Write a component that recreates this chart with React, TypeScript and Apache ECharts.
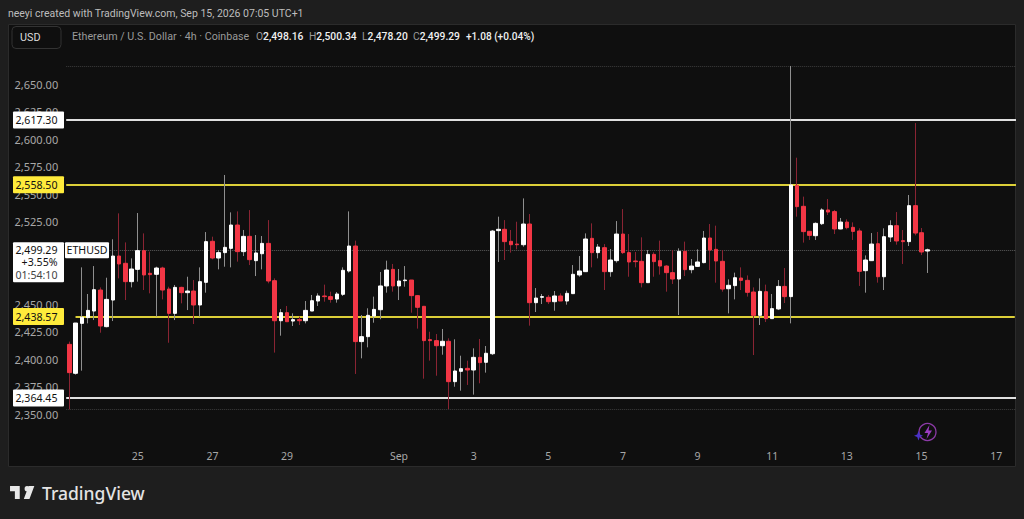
import React, { useEffect, useRef } from 'react';
import * as echarts from 'echarts';

// 4h ETHUSD candles
const opens = [
  2413.3, 2387.0, 2432.4, 2437.6, 2443.6, 2462.7, 2429.4, 2453.6, 2493.6, 2487.0,
  2470.3, 2481.5, 2498.5, 2477.9, 2477.0, 2482.7, 2463.6, 2441.5, 2465.1, 2460.3,
  2461.8, 2449.1, 2469.7, 2507.0, 2491.8, 2496.7, 2500.6, 2521.8, 2497.6, 2511.5,
  2489.4, 2495.7, 2505.1, 2471.2, 2434.8, 2442.1, 2434.5, 2435.8, 2434.8, 2443.6,
  2452.7, 2457.3, 2456.7, 2454.5, 2458.8, 2480.0, 2502.7, 2415.8, 2420.3, 2439.1,
  2444.8, 2466.4, 2481.5, 2466.4, 2471.2, 2471.8, 2457.6, 2447.9, 2417.6, 2416.7,
  2412.1, 2416.1, 2379.4, 2388.8, 2391.5, 2390.0, 2401.5, 2397.0, 2404.8, 2516.7,
  2517.9, 2507.0, 2504.5, 2503.9, 2522.7, 2451.2, 2456.1, 2456.1, 2452.1, 2457.3,
  2452.7, 2459.4, 2476.4, 2479.4, 2509.7, 2496.7, 2501.2, 2479.4, 2489.4, 2513.6,
  2496.7, 2489.1, 2488.8, 2469.4, 2495.1, 2489.4, 2484.5, 2478.5, 2472.7, 2497.9,
  2481.2, 2484.2, 2487.6, 2510.0, 2499.7, 2488.8, 2463.9, 2466.7, 2473.6, 2471.5,
  2460.9, 2439.7, 2461.2, 2436.7, 2445.5, 2466.0, 2456.7, 2557.9, 2538.8, 2516.1,
  2512.1, 2523.0, 2535.5, 2534.0, 2518.2, 2524.5, 2519.7, 2516.4, 2480.3, 2489.4,
  2504.8, 2474.8, 2510.9, 2521.2, 2507.6, 2506.7, 2539.4, 2514.8, 2498.16,
];
const closes = [
  2387.6, 2432.7, 2437.9, 2444.2, 2463.0, 2430.0, 2454.2, 2493.6, 2486.4, 2470.3,
  2481.8, 2498.5, 2476.4, 2476.7, 2482.7, 2462.7, 2441.5, 2465.1, 2460.3, 2461.8,
  2449.1, 2470.3, 2506.7, 2491.8, 2496.7, 2501.5, 2521.8, 2497.6, 2511.5, 2490.3,
  2496.4, 2505.1, 2470.9, 2434.8, 2442.1, 2433.9, 2435.8, 2434.8, 2444.2, 2453.0,
  2457.3, 2456.7, 2454.2, 2459.1, 2480.6, 2502.7, 2415.8, 2420.3, 2439.7, 2445.1,
  2466.4, 2480.9, 2466.4, 2470.9, 2471.8, 2457.6, 2447.0, 2416.7, 2416.7, 2412.1,
  2416.1, 2379.4, 2389.1, 2391.2, 2390.0, 2401.5, 2396.7, 2405.2, 2516.3, 2517.9,
  2506.7, 2503.9, 2503.9, 2522.7, 2451.2, 2455.4, 2456.7, 2452.1, 2457.3, 2452.7,
  2459.7, 2477.0, 2480.0, 2509.1, 2496.7, 2501.8, 2479.4, 2490.0, 2513.6, 2496.7,
  2488.2, 2488.5, 2469.4, 2495.1, 2488.5, 2484.5, 2478.5, 2472.7, 2497.9, 2481.2,
  2484.5, 2488.2, 2510.0, 2499.1, 2489.1, 2463.6, 2467.0, 2473.9, 2471.5, 2460.6,
  2439.7, 2461.5, 2436.7, 2445.8, 2466.0, 2456.7, 2558.2, 2538.5, 2515.8, 2512.4,
  2523.3, 2535.5, 2533.6, 2518.2, 2524.5, 2519.4, 2516.0, 2479.7, 2490.0, 2504.5,
  2474.8, 2511.2, 2521.2, 2507.3, 2506.7, 2539.4, 2514.5, 2497.3, 2499.29,
];
const lows = [
  2354.2, 2385.8, 2389.4, 2432.4, 2435.4, 2423.9, 2428.8, 2434.5, 2473.3, 2453.6,
  2465.1, 2470.3, 2462.7, 2459.7, 2438.5, 2454.2, 2414.8, 2435.4, 2450.6, 2444.5,
  2431.8, 2438.5, 2460.3, 2490.6, 2481.5, 2483.9, 2483.3, 2488.5, 2493.6, 2485.4,
  2475.4, 2481.5, 2468.8, 2405.8, 2421.2, 2433.9, 2430.0, 2430.9, 2432.4, 2443.6,
  2448.2, 2452.1, 2451.2, 2451.2, 2457.3, 2478.5, 2386.4, 2400.6, 2410.6, 2433.0,
  2436.1, 2460.3, 2461.2, 2453.6, 2465.7, 2442.1, 2427.6, 2382.1, 2398.5, 2384.8,
  2403.9, 2354.5, 2374.8, 2371.2, 2376.4, 2367.6, 2377.9, 2387.6, 2403.6, 2488.2,
  2490.0, 2496.7, 2499.7, 2502.1, 2430.3, 2442.7, 2450.0, 2450.0, 2443.9, 2452.7,
  2449.4, 2459.1, 2474.8, 2479.1, 2483.3, 2491.5, 2462.7, 2474.8, 2487.6, 2495.4,
  2474.8, 2483.3, 2465.1, 2469.4, 2474.8, 2476.7, 2461.2, 2468.2, 2440.0, 2475.4,
  2477.9, 2483.9, 2487.0, 2480.9, 2469.4, 2461.2, 2441.5, 2454.2, 2462.7, 2456.7,
  2403.6, 2430.9, 2433.6, 2436.7, 2444.5, 2450.9, 2432.4, 2529.4, 2505.8, 2508.2,
  2508.2, 2521.8, 2530.9, 2513.6, 2517.9, 2517.9, 2508.2, 2466.4, 2460.3, 2489.4,
  2469.4, 2462.7, 2506.4, 2503.9, 2486.4, 2502.7, 2512.4, 2494.5, 2478.2,
];
const highs = [
  2415.8, 2432.7, 2483.3, 2459.1, 2484.5, 2465.1, 2473.9, 2508.8, 2532.4, 2506.0,
  2491.5, 2532.7, 2514.2, 2497.6, 2483.9, 2483.9, 2465.7, 2467.3, 2465.7, 2474.8,
  2471.8, 2483.3, 2515.4, 2511.2, 2499.1, 2567.3, 2533.3, 2534.2, 2517.3, 2535.4,
  2512.7, 2511.8, 2526.3, 2473.3, 2445.4, 2448.2, 2441.5, 2438.5, 2452.7, 2458.2,
  2459.7, 2467.6, 2461.2, 2460.9, 2483.3, 2534.2, 2507.6, 2440.0, 2446.1, 2456.7,
  2479.1, 2489.4, 2486.4, 2481.8, 2484.5, 2471.8, 2458.2, 2448.2, 2424.8, 2422.7,
  2427.3, 2418.8, 2417.9, 2403.0, 2398.5, 2409.7, 2418.2, 2411.8, 2517.3, 2529.4,
  2526.3, 2517.3, 2524.8, 2546.0, 2531.8, 2464.5, 2459.1, 2458.2, 2461.8, 2459.7,
  2462.1, 2485.4, 2493.6, 2514.2, 2523.3, 2504.5, 2504.5, 2500.0, 2525.4, 2536.3,
  2513.6, 2497.3, 2510.6, 2499.1, 2497.0, 2507.6, 2485.4, 2499.1, 2500.6, 2506.7,
  2490.9, 2499.7, 2516.4, 2522.7, 2521.2, 2499.1, 2472.4, 2478.5, 2483.3, 2476.0,
  2465.1, 2473.3, 2467.6, 2459.1, 2471.8, 2482.7, 2666.4, 2583.0, 2547.6, 2516.1,
  2524.2, 2537.0, 2545.4, 2535.5, 2528.2, 2527.0, 2524.2, 2518.8, 2494.2, 2514.5,
  2515.5, 2518.8, 2526.1, 2533.6, 2517.3, 2549.1, 2614.5, 2519.1, 2500.34,
];

const slotCount = 153; // candles plus the empty space on the right
const tickIndexes = [11, 23, 35, 53, 65, 77, 89, 101, 113, 125, 137, 149];
const tickLabels = ['25', '27', '29', 'Sep', '3', '5', '7', '9', '11', '13', '15', '17'];
const hiddenPriceTicks = [2700, 2675, 2325];

const resistance = { top: 2617.3, upper: 2558.5, lower: 2438.57, bottom: 2364.45 };
const lastPrice = 2499.29;
const sessionHigh = 2666.4;
const sessionLow = 2354.5;

const PAGE_BG = '#1e1e1e';
const PANE_BG = '#0f0f0f';
const FONT = '"Noto Sans", sans-serif';
const HEAD_FONT = 'Roboto, sans-serif';
const YELLOW = '#ffeb3b';
const YELLOW_LINE = '#dccf38';
const WHITE_LINE = '#e0e0e0';
const UP = '#ffffff';
const DOWN = '#f23645';

const categories = Array.from({ length: slotCount }, (_, i) => String(i));
const fmt = (v: number) => v.toLocaleString('en-US', { minimumFractionDigits: 2, maximumFractionDigits: 2 });

const logoPath = 'M14 6H2v6h6v9h6V6zm12 15h-7l6-15h7l-6 15zm-3-15a3 3 0 1 1 0 6 3 3 0 0 1 0-6z';
const boltPath = 'M6 0 L1 8 L4.5 8 L3 14 L8.5 5.5 L5 5.5 Z';
echarts.graphic.registerShape('tvLogoShape', echarts.graphic.extendPath(logoPath, {}) as any);
echarts.graphic.registerShape('boltShape', echarts.graphic.extendPath(boltPath, {}) as any);

function legend(x: number, letter: string, value: string) {
  return {
    type: 'text', x, y: 36.5, z: 50,
    style: {
      text: `{g|${letter}}{w|${value}}`,
      verticalAlign: 'middle',
      rich: {
        g: { fill: '#9a9a9a', font: `10.3px ${HEAD_FONT}` },
        w: { fill: '#f0f0f0', font: `500 10.3px ${HEAD_FONT}` },
      },
    },
  };
}

function priceTag(y: number, text: string, bg: string) {
  return [
    { type: 'rect', z: 60, shape: { x: 13, y: y - 8.5, width: 51, height: 17, r: 1 }, style: { fill: bg } },
    { type: 'text', z: 61, x: 57.5, y, style: { text, fill: '#111', font: `10.6px ${FONT}`, align: 'right', verticalAlign: 'middle' } },
  ];
}

export default function App() {
  const chartRef = useRef<HTMLDivElement | null>(null);

  useEffect(() => {
    if (!chartRef.current) return;
    document.body.style.margin = '0';
    const chart = echarts.init(chartRef.current, undefined, { renderer: 'svg' });

    const line = (value: number, color: string, width: number, type: string = 'solid') => ({
      yAxis: value,
      lineStyle: { color, width, type },
    });

    const option: any = {
      animation: false,
      backgroundColor: PAGE_BG,
      grid: { left: 66.2, top: 29, width: 951.7, height: 412.5, containLabel: false },
      xAxis: {
        type: 'category',
        data: categories,
        boundaryGap: true,
        axisLine: { show: false },
        axisTick: { show: false },
        splitLine: { show: false },
        axisLabel: {
          interval: (i: number) => tickIndexes.includes(i),
          formatter: (_: string, i: number) => tickLabels[tickIndexes.indexOf(i)] ?? '',
          color: '#a8a8a8',
          fontFamily: FONT,
          fontSize: 10.5,
          margin: 9,
        },
      },
      yAxis: {
        type: 'value',
        position: 'left',
        min: 2325,
        max: 2700,
        interval: 25,
        axisLine: { show: false },
        axisTick: { show: false },
        splitLine: { show: false },
        axisLabel: {
          formatter: (v: number) => (hiddenPriceTicks.includes(v) ? '' : fmt(v)),
          color: '#a8a8a8',
          fontFamily: FONT,
          fontSize: 11,
          margin: 8,
          showMinLabel: true,
          showMaxLabel: true,
        },
      },
      series: [
        {
          // wicks only, the thin dim lines
          type: 'candlestick',
          barWidth: 1,
          z: 6,
          itemStyle: { color: '#8f8f8f', color0: '#8a2433', borderColor: '#8f8f8f', borderColor0: '#8a2433', borderWidth: 1 },
          data: opens.map((o, i) => [o, closes[i], lows[i], highs[i]]),
          markLine: {
            silent: true,
            symbol: 'none',
            animation: false,
            label: { show: false },
            z: 1,
            data: [
              line(sessionHigh, '#3d3d3d', 1, 'dotted'),
              line(sessionLow, '#3d3d3d', 1, 'dotted'),
              line(lastPrice, '#5c5c5c', 1, 'dotted'),
            ],
          },
        },
        {
          // bodies on top
          type: 'candlestick',
          barWidth: 4,
          z: 7,
          itemStyle: { color: UP, color0: DOWN, borderColor: UP, borderColor0: DOWN, borderWidth: 1 },
          data: opens.map((o, i) => [o, closes[i], Math.min(o, closes[i]), Math.max(o, closes[i])]),
          markLine: {
            silent: true,
            symbol: 'none',
            animation: false,
            label: { show: false },
            z: 2,
            lineStyle: { type: 'solid' },
            data: [
              line(resistance.top, WHITE_LINE, 2),
              line(resistance.upper, YELLOW_LINE, 2),
              line(resistance.bottom, WHITE_LINE, 2),
              [
                { coord: [1, resistance.lower], lineStyle: { color: YELLOW_LINE, width: 2, type: 'solid' } },
                { coord: [slotCount - 1, resistance.lower] },
              ],
            ],
          },
        },
      ],
    };
    chart.setOption(option);

    const py = (v: number) => chart.convertToPixel({ yAxisIndex: 0 }, v) as number;
    const lastY = py(lastPrice);

    chart.setOption({
      graphic: {
        elements: [
          // pane
          { type: 'rect', z: -10, shape: { x: 8.5, y: 24.5, width: 1007, height: 442 }, style: { fill: PANE_BG, stroke: '#2b2b2b', lineWidth: 1 } },
          // strip covering candle slots past the pane's right edge
          { type: 'rect', z: 40, shape: { x: 1016, y: 0, width: 8, height: 519 }, style: { fill: PAGE_BG } },
          { type: 'text', z: 50, x: 8, y: 13, style: { text: 'neeyi created with TradingView.com, Sep 15, 2026 07:05 UTC+1', fill: '#bdbdbd', font: `10.5px ${HEAD_FONT}`, verticalAlign: 'middle' } },
          { type: 'rect', z: 50, shape: { x: 12, y: 26.5, width: 49, height: 22, r: 4 }, style: { fill: PANE_BG, stroke: '#333', lineWidth: 1 } },
          { type: 'text', z: 51, x: 20, y: 37.5, style: { text: 'USD', fill: '#dcdcdc', font: `10.8px ${HEAD_FONT}`, verticalAlign: 'middle' } },
          { type: 'text', z: 50, x: 72, y: 36.5, style: { text: 'Ethereum / U.S. Dollar · 4h · Coinbase', fill: '#9a9a9a', font: `10.7px ${HEAD_FONT}`, verticalAlign: 'middle' } },
          legend(256, 'O', '2,498.16'),
          legend(309, 'H', '2,500.34'),
          legend(362, 'L', '2,478.20'),
          legend(413, 'C', '2,499.29'),
          { type: 'text', z: 50, x: 466, y: 36.5, style: { text: '+1.08 (+0.04%)', fill: '#f0f0f0', font: `500 10.1px ${HEAD_FONT}`, verticalAlign: 'middle' } },
          ...priceTag(py(resistance.top), fmt(resistance.top), '#ffffff'),
          ...priceTag(py(resistance.upper), fmt(resistance.upper), YELLOW),
          ...priceTag(py(resistance.lower), fmt(resistance.lower), YELLOW),
          ...priceTag(py(resistance.bottom), fmt(resistance.bottom), '#ffffff'),
          // last price box with percent and countdown
          { type: 'rect', z: 60, shape: { x: 13, y: lastY - 7.5, width: 51, height: 40, r: 1 }, style: { fill: '#ffffff' } },
          { type: 'text', z: 61, x: 57.5, y: lastY, style: { text: '2,499.29', fill: '#111', font: `10.6px ${FONT}`, align: 'right', verticalAlign: 'middle' } },
          { type: 'text', z: 61, x: 57.5, y: lastY + 12, style: { text: '+3.55%', fill: '#111', font: `10.6px ${FONT}`, align: 'right', verticalAlign: 'middle' } },
          { type: 'text', z: 61, x: 57.5, y: lastY + 25, style: { text: '01:54:10', fill: '#444', font: `10.6px ${FONT}`, align: 'right', verticalAlign: 'middle' } },
          { type: 'rect', z: 60, shape: { x: 65, y: lastY - 7.5, width: 44, height: 16, r: 1 }, style: { fill: '#ffffff' } },
          { type: 'text', z: 61, x: 87, y: lastY, style: { text: 'ETHUSD', fill: '#111', font: `10.6px ${FONT}`, align: 'center', verticalAlign: 'middle' } },
          // bolt marker
          { type: 'circle', z: 50, shape: { cx: 927.5, cy: 432, r: 8.5 }, style: { fill: 'none', stroke: '#8b3aa6', lineWidth: 1.3 } },
          { type: 'boltShape', z: 51, x: 923.5, y: 425, style: { fill: '#9a3cc0' } },
          { type: 'polygon', z: 51, shape: { points: [[918.5, 431], [919.8, 434.4], [923, 435.7], [919.8, 437], [918.5, 440.5], [917.2, 437], [914, 435.7], [917.2, 434.4]] }, style: { fill: '#4a32c8' } },
          // footer
          { type: 'tvLogoShape', z: 50, x: 8.4, y: 480.8, scaleX: 0.81, scaleY: 0.87, style: { fill: '#e8e8e8' } },
          { type: 'text', z: 50, x: 42, y: 493, style: { text: 'TradingView', fill: '#e4e4e4', font: `500 17.5px ${FONT}`, verticalAlign: 'middle' } },
        ],
      },
    });

    return () => {
      chart.dispose();
    };
  }, []);

  return <div ref={chartRef} style={{ position: 'fixed', left: 0, top: 0, width: '1024px', height: '519px' }} />;
}
